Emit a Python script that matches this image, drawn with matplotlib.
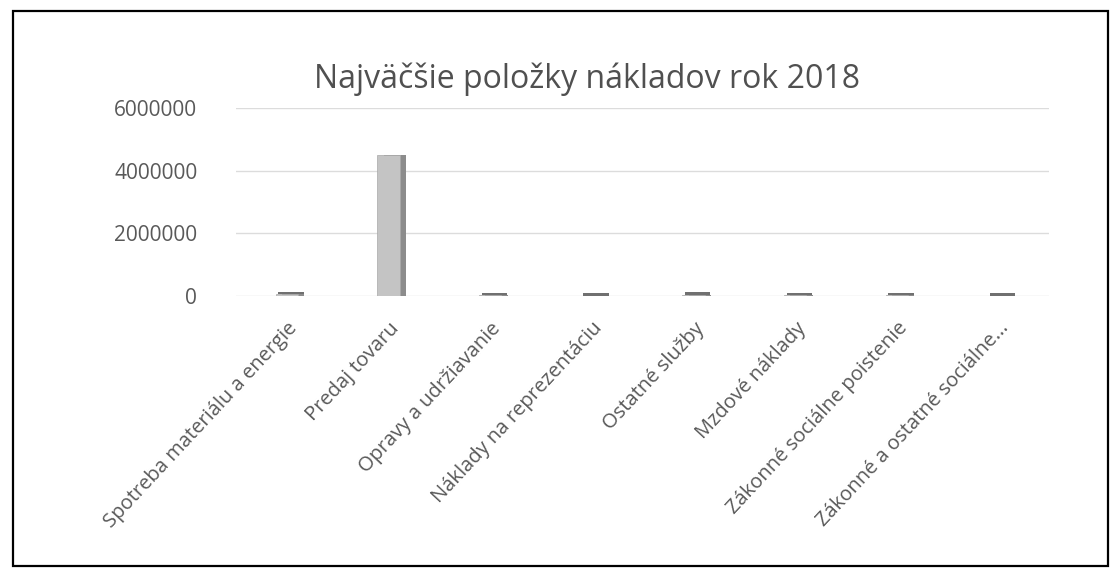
import numpy as np
import matplotlib.pyplot as plt
from matplotlib.patches import Rectangle

# data
categories = ['Spotreba materiálu a energie', 'Predaj tovaru',
              'Opravy a udržiavanie', 'Náklady na reprezentáciu',
              'Ostatné služby', 'Mzdové náklady',
              'Zákonné sociálne poistenie', 'Zákonné a ostatné sociálne...']
values = [60000, 4500000, 30000, 20000, 50000, 40000, 30000, 20000]
yticks = [0, 2000000, 4000000, 6000000]

plt.rcParams['font.family'] = ['Open Sans', 'DejaVu Sans']
text_col = '#595959'

fig = plt.figure(figsize=(11.14, 5.73), dpi=100)
fig.patches.append(Rectangle((0.012, 0.012), 0.983, 0.969, transform=fig.transFigure,
                             fill=False, edgecolor='black', linewidth=1.6))

ax = fig.add_axes([0.212, 0.483, 0.73, 0.3285])
x = np.arange(len(categories))

# fake 3d look: darker side face behind the front face
ax.bar(x + 0.06, values, width=0.22, color='#8c8c8c', zorder=2)
ax.bar(x, values, width=0.22, color='#c4c4c4', edgecolor='#a8a8a8',
       linewidth=0.5, zorder=3)
# flat tops of the tiny bars
small = [v if v < 500000 else 0 for v in values]
ax.bar(x + 0.04, [70000 if s else 0 for s in small], bottom=small, width=0.25,
       color='#707070', zorder=4)

ax.set_xlim(-0.5, len(categories) - 0.5)
ax.set_ylim(0, 6000000)
ax.set_yticks(yticks)
ax.set_yticklabels([str(t) for t in yticks], fontsize=15, color=text_col)
ax.yaxis.grid(True, color='#dcdcdc', linewidth=1)
ax.set_axisbelow(True)
ax.set_xticks(x)
ax.set_xticklabels(categories, rotation=47, ha='right', rotation_mode='anchor',
                   fontsize=14.5, color=text_col)
ax.tick_params(axis='x', length=0, pad=16)
ax.tick_params(axis='y', length=0, pad=28)
for s in ax.spines.values():
    s.set_visible(False)

fig.text(0.527, 0.862, 'Najväčšie položky nákladov rok 2018', ha='center',
         va='center', fontsize=23, color='#505050')

fig.savefig('out.png', dpi=100)
